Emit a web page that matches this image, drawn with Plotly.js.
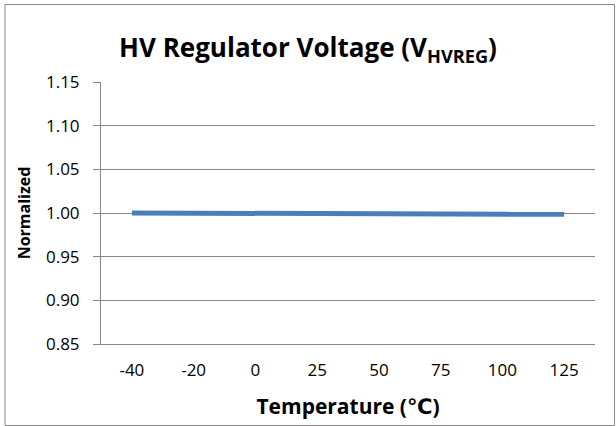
<!DOCTYPE html>
<html>
<head>
<meta charset="utf-8">
<script src="https://cdn.plot.ly/plotly-3.0.1.min.js"></script>
<style>
  html, body { margin: 0; padding: 0; background: #ffffff; }
  #chart { width: 616px; height: 426px; }
</style>
</head>
<body>
<div id="chart"></div>
<script>
const temperatures = ["-40", "-20", "0", "25", "50", "75", "100", "125"];
const normalizedVoltage = [1.0000, 0.9996, 1.0005, 0.9998, 0.9995, 0.9992, 0.9985, 0.9985];
const yTickValues = [0.85, 0.90, 0.95, 1.00, 1.05, 1.10, 1.15];
const yTickLabels = ["0.85", "0.90", "0.95", "1.00", "1.05", "1.10", "1.15"];

const fontFamily = "'Open Sans', Lato, 'DejaVu Sans', sans-serif";
const gridColor = "#868686";

const trace = {
  x: temperatures,
  y: normalizedVoltage,
  type: "scatter",
  mode: "lines",
  line: { color: "#4A7EBB", width: 5 },
  hoverinfo: "x+y",
  showlegend: false
};

// plot area in px: x 101..595, y 82..344
const L = 101, R = 595, T = 82, B = 344, W = 616, H = 426;
const pw = R - L, ph = B - T;

const layout = {
  width: W,
  height: H,
  margin: { l: L, r: W - R, t: T, b: H - B, pad: 0 },
  paper_bgcolor: "#ffffff",
  plot_bgcolor: "#ffffff",
  font: { family: fontFamily, color: "#000000", size: 16 },
  title: {
    text: "<b>HV Regulator Voltage (V<sub>HVREG</sub>)</b>",
    font: { family: fontFamily, size: 26, color: "#000000" },
    x: 0.5, xanchor: "center",
    y: 1 - 48 / H, yanchor: "middle"
  },
  xaxis: {
    type: "category",
    categoryorder: "array",
    categoryarray: temperatures,
    range: [-0.5, temperatures.length - 0.5],
    showgrid: false,
    zeroline: false,
    showline: true,
    linecolor: gridColor,
    linewidth: 1,
    ticks: "",
    tickfont: { family: fontFamily, size: 17, color: "#000000" },
    ticklabelstandoff: 11,
    title: {
      text: "<b>Temperature (℃)</b>",
      font: { family: fontFamily, size: 21, color: "#000000" },
      standoff: 18
    },
    fixedrange: true
  },
  yaxis: {
    range: [0.85, 1.15],
    tickmode: "array",
    tickvals: yTickValues,
    ticktext: yTickLabels,
    showgrid: true,
    gridcolor: gridColor,
    gridwidth: 1,
    zeroline: false,
    showline: true,
    linecolor: gridColor,
    linewidth: 1,
    ticks: "outside",
    ticklen: 7,
    tickcolor: gridColor,
    tickfont: { family: fontFamily, size: 17, color: "#000000" },
    ticklabelstandoff: 10,
    title: {
      text: "<b>Normalized</b>",
      font: { family: fontFamily, size: 16, color: "#000000" },
      standoff: 11
    },
    fixedrange: true
  },
  shapes: [
    {
      type: "rect",
      xref: "paper", yref: "paper",
      x0: (5 - L) / pw, x1: (614.5 - L) / pw,
      y0: (B - 425.5) / ph, y1: (B - 4.5) / ph,
      line: { color: gridColor, width: 1 },
      fillcolor: "rgba(0,0,0,0)",
      layer: "below"
    }
  ]
};

Plotly.newPlot("chart", [trace], layout, { staticPlot: true, displayModeBar: false });
</script>
</body>
</html>
